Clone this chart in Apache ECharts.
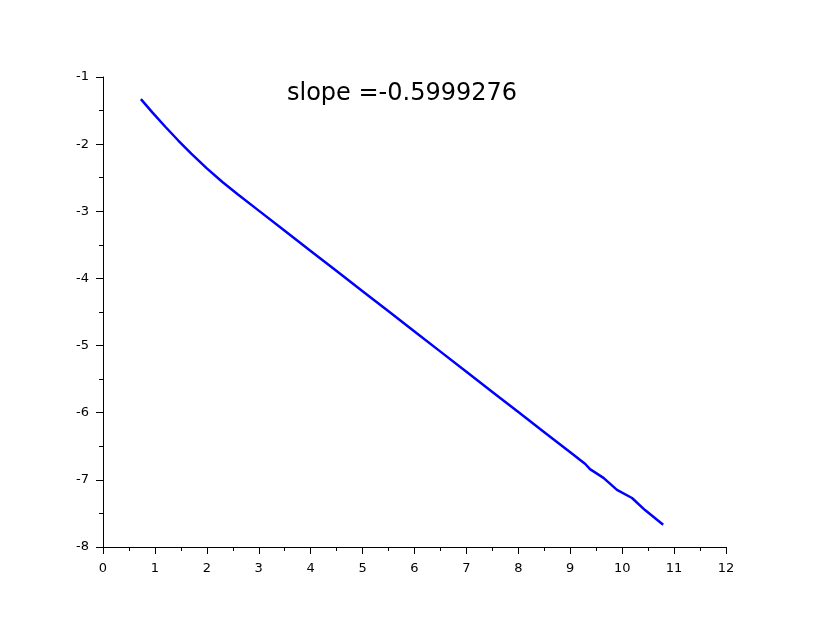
<!DOCTYPE html>
<html>
<head>
<meta charset="utf-8">
<script src="https://cdn.jsdelivr.net/npm/echarts@6/dist/echarts.min.js"></script>
<style>html,body{margin:0;padding:0;background:#fff}#c{width:830px;height:626px}</style>
</head>
<body>
<div id="c"></div>
<script>
var xValues = [0.73, 0.95, 1.2, 1.45, 1.7, 2.0, 2.3, 2.6, 3.0, 3.5, 4.0, 4.5, 5.0, 5.5, 6.0, 6.5, 7.0, 7.5, 8.0, 8.5, 9.0, 9.29, 9.38, 9.64, 9.90, 10.19, 10.44, 10.79];
var yValues = [-1.33, -1.526, -1.741, -1.946, -2.141, -2.36, -2.564, -2.75, -2.99, -3.29, -3.59, -3.89, -4.19, -4.49, -4.79, -5.09, -5.39, -5.69, -5.99, -6.29, -6.59, -6.764, -6.84, -6.97, -7.15, -7.27, -7.45, -7.67];
var titleText = 'slope =-0.5999276';

var data = xValues.map(function (x, i) { return [x, yValues[i]]; });
var font = 'DejaVu Sans';
var chart = echarts.init(document.getElementById('c'));
chart.setOption({
  animation: false,
  backgroundColor: '#fff',
  grid: { left: 103, right: 104, top: 77, bottom: 79, containLabel: false },
  graphic: [{
    type: 'text', left: 287, top: 82,
    style: { text: titleText, font: '24px "DejaVu Sans"', fill: '#000' }
  }],
  xAxis: {
    type: 'value', min: 0, max: 12, interval: 1,
    axisLine: { show: true, onZero: false, lineStyle: { color: '#000', width: 1 } },
    axisTick: { show: true, length: 7, lineStyle: { color: '#000' } },
    minorTick: { show: true, splitNumber: 2, length: 4, lineStyle: { color: '#000' } },
    splitLine: { show: false },
    axisLabel: { color: '#000', fontFamily: font, fontSize: 13, margin: 15 }
  },
  yAxis: {
    type: 'value', min: -8, max: -1, interval: 1,
    axisLine: { show: true, onZero: false, lineStyle: { color: '#000', width: 1 } },
    axisTick: { show: true, length: 7, lineStyle: { color: '#000' } },
    minorTick: { show: true, splitNumber: 2, length: 4, lineStyle: { color: '#000' } },
    splitLine: { show: false },
    axisLabel: { color: '#000', fontFamily: font, fontSize: 13, margin: 14 }
  },
  series: [{
    type: 'line', data: data, showSymbol: false, symbol: 'none',
    lineStyle: { color: '#0000ff', width: 2.5 }
  }]
});
</script>
</body>
</html>
